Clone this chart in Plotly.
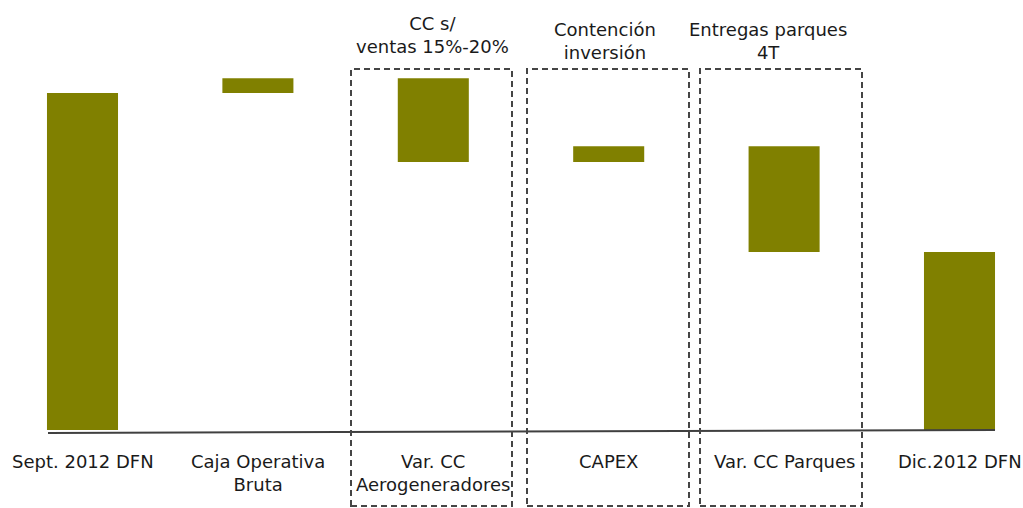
import plotly.graph_objects as go

# ---- data ----
categories = ["Sept. 2012 DFN", "Caja Operativa<br>Bruta", "Var. CC<br>Aerogeneradores",
              "CAPEX", "Var. CC Parques", "Dic.2012 DFN"]
values = [100.0, 4.4, -24.9, 4.7, -31.4, 0]
measures = ["absolute", "relative", "relative", "relative", "relative", "total"]
group_labels = ["CC s/<br>ventas 15%-20%", "Contención<br>inversión", "Entregas parques<br>4T"]

OLIVE = "#808000"
FONT = "Tahoma, DejaVu Sans, sans-serif"
TXT = "#1a1a1a"
W, H = 1023, 508

xs = list(range(len(categories)))
fig = go.Figure(go.Waterfall(
    x=xs, y=values, measure=measures,
    width=[0.405] * len(xs),
    increasing=dict(marker=dict(color=OLIVE)),
    decreasing=dict(marker=dict(color=OLIVE)),
    totals=dict(marker=dict(color=OLIVE)),
    connector=dict(visible=False),
    textposition="none", hoverinfo="skip",
))

# pixel helpers for layout only
px_per_cat = 175.4
x0_px = 82.5
xmin = -x0_px / px_per_cat
xmax = xmin + W / px_per_cat
base_px = 430
px_per_unit = 3.37
ymax = base_px / px_per_unit
ymin = -(H - base_px) / px_per_unit

def xd(px):
    return (px - x0_px) / px_per_cat

def yp(py):
    return 1 - py / H

shapes = []
# baseline (slightly slanted as in the original)
shapes.append(dict(type="line", xref="x", yref="y", x0=xd(48), x1=xd(995),
                   y0=(base_px - 433) / px_per_unit, y1=0,
                   line=dict(color="#404040", width=2)))
# dashed boxes
for l, r in [(351, 512), (527, 689), (700, 862)]:
    shapes.append(dict(type="rect", xref="x", yref="paper", x0=xd(l), x1=xd(r),
                       y0=yp(506), y1=yp(69),
                       line=dict(color="#454545", width=2, dash="6px,4px"),
                       fillcolor="rgba(0,0,0,0)"))

annotations = []
for i, c in enumerate(categories):
    annotations.append(dict(x=i, y=yp(449), xref="x", yref="paper", text=c,
                            showarrow=False, xanchor="center", yanchor="top",
                            font=dict(family=FONT, size=18, color=TXT)))
for (xpx, ypx), t in zip([(432, 35), (605, 41), (768, 41.5)], group_labels):
    annotations.append(dict(x=xd(xpx), y=yp(ypx), xref="x", yref="paper", text=t,
                            showarrow=False, xanchor="center", yanchor="middle",
                            font=dict(family=FONT, size=18, color=TXT)))

fig.update_layout(
    width=W, height=H, margin=dict(l=0, r=0, t=0, b=0),
    paper_bgcolor="white", plot_bgcolor="white", showlegend=False,
    xaxis=dict(range=[xmin, xmax], visible=False, type="linear"),
    yaxis=dict(range=[ymin, ymax], visible=False),
    shapes=shapes, annotations=annotations,
)
fig.write_html("out.html", config={"displayModeBar": False},
               post_script="document.body.style.margin='0';document.body.style.overflow='hidden';")
